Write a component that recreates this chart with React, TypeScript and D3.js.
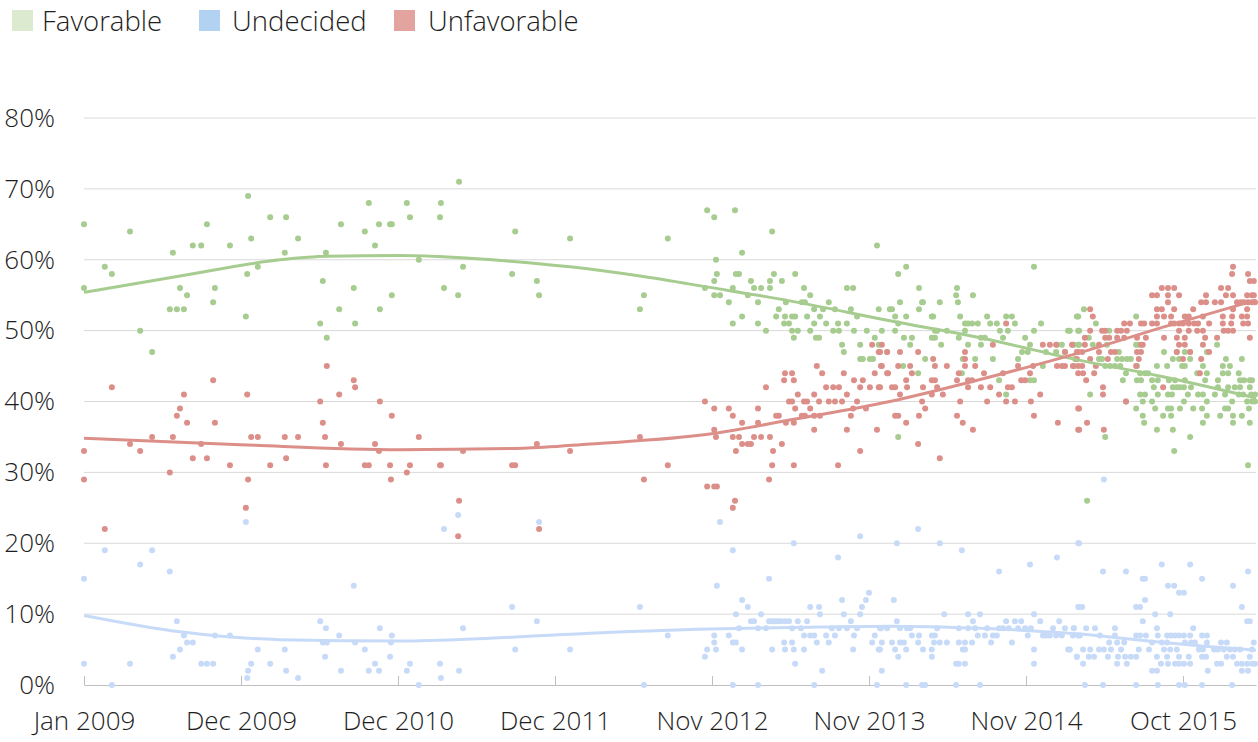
import { useEffect, useRef } from 'react';
import * as d3 from 'd3';

// Poll results: [days since 1 Jan 2009, percent]
const favorable: [number, number][] = [
  [0, 65], [0, 56], [47, 59], [63, 58], [104, 64], [127, 50], [154, 47], [194, 53], [201, 61], [210, 53],
  [217, 56], [226, 53], [233, 55], [246, 62], [265, 62], [278, 65], [292, 54], [296, 56], [330, 62], [366, 52],
  [369, 58], [371, 69], [378, 63], [393, 59], [421, 66], [454, 61], [457, 66], [484, 63], [534, 51], [540, 57],
  [547, 61], [549, 49], [577, 53], [581, 65], [610, 56], [613, 51], [635, 64], [644, 68], [658, 62], [667, 65],
  [669, 53], [692, 65], [696, 65], [696, 55], [730, 68], [737, 66], [757, 60], [805, 66], [807, 68], [814, 56],
  [846, 55], [848, 71], [857, 59], [968, 58], [975, 64], [1024, 57], [1029, 55], [1099, 63], [1257, 53], [1266, 55],
  [1320, 63], [1404, 56], [1409, 67],
  [1425, 66], [1472, 67], [1556, 64], [1488, 61], [1429, 60], [1431, 58], [1474, 58], [1481, 58], [1560, 58], [1608, 58],
  [1425, 57], [1508, 57], [1551, 57], [1578, 57], [1467, 56], [1515, 56], [1531, 56], [1551, 56], [1628, 56], [1725, 56],
  [1739, 56], [1793, 62], [1425, 55], [1438, 55], [1501, 55], [1642, 55], [1458, 54], [1524, 54], [1587, 54], [1623, 54],
  [1630, 54], [1684, 54], [1488, 52], [1571, 53], [1651, 53], [1671, 53], [1698, 53], [1734, 53], [1797, 53], [1467, 51],
  [1524, 51], [1565, 52], [1585, 52], [1601, 52], [1608, 52], [1635, 52], [1664, 52], [1583, 51], [1594, 51], [1651, 51],
  [1678, 51], [1705, 51], [1725, 51], [1748, 52], [1542, 50], [1601, 50], [1614, 50], [1642, 50], [1694, 50], [1707, 50],
  [1741, 50], [1770, 50], [1804, 50], [1605, 49], [1655, 49], [1662, 49], [1788, 49], [1714, 48], [1755, 48], [1797, 48],
  [1718, 47], [1816, 47], [1755, 46], [1761, 46], [1777, 46], [1784, 46], [1822, 53],
  [1841, 58], [1859, 59], [2148, 59], [1888, 56], [1974, 56], [1972, 55], [1976, 54], [2010, 55], [1845, 54], [1895, 54],
  [1897, 54], [1935, 54], [1827, 53], [1888, 53], [1834, 52], [1859, 52], [1917, 52], [1920, 52], [1981, 52], [2042, 52],
  [2085, 52], [2098, 52], [2245, 52], [1841, 51], [1992, 51], [1999, 51], [2008, 51], [2021, 51], [2049, 51], [2064, 51],
  [2105, 51], [2164, 51], [1834, 50], [1924, 50], [1929, 50], [1951, 50], [1992, 50], [2071, 50], [2089, 50], [2148, 50],
  [2225, 50], [2248, 50], [1854, 49], [1872, 49], [1917, 49], [1924, 49], [1978, 49], [2028, 49], [2037, 49], [2078, 49],
  [2128, 49], [1868, 48], [1938, 48], [1999, 48], [2028, 48], [2139, 48], [2200, 48], [2211, 48], [2238, 48], [2248, 48],
  [2121, 47], [2134, 47], [2175, 47], [2198, 47], [2218, 47], [1902, 46], [1987, 46], [2015, 46], [2055, 46], [2112, 46],
  [2241, 46], [1852, 45], [2168, 45], [2238, 45], [1985, 44], [1886, 44], [2069, 43], [2139, 43], [2148, 43], [2085, 41],
  [1841, 35],
  [2261, 53], [2248, 52], [2379, 52], [2288, 51], [2229, 50], [2250, 50], [2272, 49], [2318, 50], [2562, 48], [2236, 48],
  [2250, 48], [2281, 48], [2313, 48], [2379, 48], [2385, 48], [2340, 47], [2442, 47], [2471, 47], [2489, 47], [2501, 47],
  [2539, 47], [2295, 46], [2302, 46], [2336, 46], [2347, 46], [2358, 46], [2367, 46], [2462, 46], [2476, 46], [2501, 46],
  [2582, 46], [2618, 46], [2238, 45], [2309, 45], [2320, 45], [2331, 45], [2343, 45], [2381, 45], [2426, 45], [2449, 45],
  [2483, 45], [2489, 45], [2530, 45], [2575, 45], [2591, 45], [2356, 44], [2388, 44], [2399, 44], [2406, 44], [2517, 44],
  [2539, 44], [2575, 44], [2587, 44], [2611, 44], [2349, 43], [2381, 43], [2390, 43], [2415, 43], [2428, 43], [2453, 43],
  [2467, 43], [2489, 43], [2535, 43], [2564, 43], [2614, 43], [2623, 43], [2636, 43], [2641, 43], [2419, 42], [2462, 42],
  [2471, 42], [2478, 42], [2487, 42], [2503, 42], [2564, 42], [2587, 42], [2602, 42], [2614, 42], [2636, 42], [2275, 41],
  [2388, 41], [2399, 41], [2428, 41], [2451, 41], [2460, 41], [2496, 41], [2519, 41], [2530, 41], [2557, 41], [2580, 41],
  [2611, 41], [2621, 41], [2639, 41], [2648, 41], [2356, 40], [2394, 40], [2415, 40], [2487, 40], [2539, 40], [2596, 40],
  [2630, 40], [2641, 40], [2648, 40], [2379, 39], [2422, 39], [2451, 39], [2458, 39], [2478, 39], [2508, 39], [2528, 39],
  [2580, 39], [2587, 39], [2634, 39], [2394, 38], [2440, 38], [2458, 38], [2539, 38], [2569, 38], [2598, 38], [2618, 38],
  [2397, 37], [2530, 37], [2598, 37], [2636, 37], [2426, 36], [2462, 36], [2309, 35], [2501, 35], [2465, 33], [2632, 31],
  [2268, 26],
];

const undecided: [number, number][] = [
  [0, 15], [0, 3], [47, 19], [63, 0], [104, 3], [127, 17], [154, 19], [194, 16], [201, 4], [210, 9],
  [217, 5], [226, 7], [233, 6], [246, 6], [265, 3], [278, 3], [292, 3], [296, 7], [330, 7], [366, 23],
  [369, 1], [371, 2], [378, 3], [393, 5], [421, 3], [454, 5], [457, 2], [484, 1], [534, 9], [547, 8],
  [540, 6], [549, 6], [545, 4], [577, 7], [581, 2], [610, 14], [613, 6], [635, 5], [644, 2], [658, 3],
  [667, 2], [669, 8], [692, 4], [694, 6], [696, 7], [730, 2], [737, 3], [757, 0], [805, 3], [807, 1],
  [814, 22], [846, 24], [848, 2], [857, 8], [968, 11], [975, 5], [1024, 9], [1029, 23], [1099, 5], [1257, 11],
  [1266, 0], [1320, 7], [1404, 4], [1409, 5],
  [1438, 23], [1755, 21], [1467, 19], [1605, 20], [1705, 18], [1431, 14], [1549, 15], [1488, 12], [1501, 11], [1775, 13],
  [1768, 12], [1714, 12], [1759, 11], [1642, 11], [1662, 11], [1474, 10], [1531, 10], [1664, 10], [1718, 10], [1755, 10],
  [1508, 9], [1515, 9], [1549, 9], [1556, 9], [1562, 9], [1569, 9], [1576, 9], [1585, 9], [1594, 9], [1614, 9],
  [1635, 9], [1734, 9], [1481, 8], [1524, 8], [1542, 8], [1601, 8], [1621, 8], [1691, 8], [1707, 8], [1725, 8],
  [1748, 8], [1802, 8], [1425, 7], [1458, 7], [1628, 7], [1642, 7], [1651, 7], [1678, 7], [1698, 7], [1741, 7],
  [1788, 7], [1425, 6], [1467, 6], [1474, 6], [1583, 6], [1601, 6], [1657, 6], [1684, 6], [1782, 6], [1804, 6],
  [1429, 5], [1488, 5], [1556, 5], [1585, 5], [1605, 5], [1628, 5], [1739, 5], [1797, 5], [1608, 3], [1669, 2],
  [1804, 2], [1467, 0], [1524, 0], [1651, 0], [1793, 0],
  [1886, 22], [1838, 20], [1935, 20], [2248, 20], [1985, 19], [2200, 18], [2069, 16], [2139, 17], [1831, 12], [1945, 10],
  [1999, 10], [2026, 10], [2148, 10], [2248, 11], [1838, 9], [2010, 9], [2085, 9], [2105, 9], [2119, 9], [2162, 9],
  [2205, 9], [1800, 8], [1816, 8], [1845, 8], [1861, 8], [1868, 8], [1929, 8], [1978, 8], [1999, 8], [2015, 8],
  [2042, 8], [2069, 8], [2078, 8], [2091, 8], [2112, 8], [2128, 8], [2141, 8], [2191, 8], [2218, 8], [2238, 8],
  [1872, 7], [1888, 7], [1917, 7], [1924, 7], [2021, 7], [2037, 7], [2055, 7], [2064, 7], [2134, 7], [2168, 7],
  [2175, 7], [2184, 7], [2198, 7], [2211, 7], [2248, 7], [1827, 6], [1845, 6], [1854, 6], [1886, 6], [1922, 6],
  [1935, 6], [1951, 6], [1978, 6], [1992, 6], [2008, 6], [2051, 6], [2098, 6], [1800, 5], [1834, 5], [1859, 5],
  [1897, 5], [1917, 5], [1987, 5], [1992, 5], [2148, 5], [2225, 5], [1841, 4], [1917, 4], [2245, 4], [1972, 3],
  [1978, 3], [1992, 3], [2148, 3], [1859, 0], [1895, 0], [1902, 0], [1972, 0], [2026, 0],
  [2306, 29], [2250, 20], [2304, 16], [2356, 16], [2437, 17], [2501, 17], [2394, 15], [2399, 15], [2528, 15], [2632, 16],
  [2451, 14], [2465, 14], [2487, 13], [2476, 13], [2598, 14], [2250, 11], [2257, 11], [2379, 11], [2388, 11], [2399, 12],
  [2618, 11], [2422, 10], [2456, 10], [2394, 9], [2630, 9], [2636, 9], [2238, 8], [2266, 8], [2286, 8], [2331, 8],
  [2426, 8], [2508, 8], [2236, 7], [2252, 7], [2297, 7], [2331, 7], [2379, 7], [2388, 7], [2401, 7], [2428, 7],
  [2449, 7], [2458, 7], [2467, 7], [2476, 7], [2487, 7], [2501, 7], [2528, 7], [2539, 7], [2318, 6], [2336, 6],
  [2352, 6], [2415, 6], [2437, 6], [2449, 6], [2489, 6], [2503, 6], [2512, 6], [2539, 6], [2571, 6], [2584, 6],
  [2645, 6], [2229, 5], [2259, 5], [2275, 5], [2295, 5], [2306, 5], [2322, 5], [2345, 5], [2385, 5], [2408, 5],
  [2442, 5], [2456, 5], [2471, 5], [2521, 5], [2530, 5], [2555, 5], [2564, 5], [2577, 5], [2591, 5], [2602, 5],
  [2614, 5], [2641, 5], [2245, 4], [2272, 4], [2284, 4], [2315, 4], [2338, 4], [2354, 4], [2367, 4], [2379, 4],
  [2426, 4], [2449, 4], [2476, 4], [2498, 4], [2528, 4], [2537, 4], [2584, 4], [2598, 4], [2636, 4], [2259, 3],
  [2336, 3], [2358, 3], [2435, 3], [2451, 3], [2467, 3], [2476, 3], [2487, 3], [2501, 3], [2562, 3], [2571, 3],
  [2607, 3], [2618, 3], [2630, 3], [2641, 3], [2648, 3], [2415, 2], [2426, 2], [2541, 2], [2618, 2], [2632, 2],
  [2263, 0], [2304, 0], [2379, 0], [2428, 0], [2476, 0], [2489, 0], [2528, 0], [2596, 0],
];

const unfavorable: [number, number][] = [
  [0, 33], [0, 29], [47, 22], [63, 42], [104, 34], [127, 33], [154, 35], [194, 30], [201, 35], [210, 38],
  [217, 39], [226, 41], [233, 37], [246, 32], [265, 34], [278, 32], [292, 43], [296, 37], [330, 31], [366, 25],
  [369, 41], [371, 29], [378, 35], [393, 35], [421, 31], [454, 35], [457, 32], [484, 35], [534, 40], [540, 37],
  [545, 35], [547, 31], [549, 45], [577, 41], [581, 34], [610, 43], [613, 42], [635, 31], [644, 31], [658, 34],
  [667, 33], [669, 40], [692, 31], [694, 29], [696, 38], [730, 30], [737, 31], [757, 35], [805, 31], [807, 31],
  [846, 21], [848, 26], [857, 33], [968, 31], [975, 31], [1024, 34], [1029, 22], [1099, 33], [1257, 35], [1266, 29],
  [1320, 31], [1404, 40], [1409, 28],
  [1782, 48], [1797, 47], [1802, 45], [1657, 45], [1585, 44], [1601, 44], [1669, 44], [1718, 44], [1788, 44], [1816, 44],
  [1583, 43], [1605, 43], [1741, 43], [1761, 43], [1542, 42], [1678, 42], [1694, 42], [1707, 42], [1755, 42], [1777, 42],
  [1797, 42], [1614, 41], [1651, 41], [1725, 41], [1594, 40], [1601, 40], [1628, 40], [1635, 40], [1662, 40], [1684, 40],
  [1698, 40], [1714, 40], [1748, 40], [1425, 39], [1458, 39], [1524, 39], [1608, 39], [1642, 39], [1739, 39], [1768, 39],
  [1467, 38], [1565, 38], [1571, 38], [1623, 38], [1630, 38], [1651, 38], [1664, 38], [1734, 38], [1488, 37], [1524, 37],
  [1587, 37], [1605, 37], [1425, 36], [1651, 36], [1725, 36], [1793, 36], [1429, 35], [1467, 35], [1481, 35], [1515, 35],
  [1531, 35], [1551, 35], [1488, 34], [1501, 34], [1508, 34], [1578, 34], [1474, 33], [1558, 33], [1755, 33], [1556, 31],
  [1605, 31], [1705, 31], [1549, 29], [1425, 28], [1431, 28], [1472, 26], [1467, 25],
  [2085, 51], [1804, 48], [2168, 48], [2184, 48], [2198, 48], [2055, 48], [1800, 47], [1816, 47], [1845, 47], [1886, 47],
  [1992, 47], [2218, 47], [2245, 47], [1920, 46], [1992, 46], [1804, 45], [1841, 45], [1868, 45], [1924, 45], [1951, 45],
  [1992, 45], [2015, 45], [2112, 45], [2146, 45], [2200, 45], [2211, 45], [2218, 45], [1818, 44], [1872, 44], [1978, 44],
  [2035, 44], [2078, 44], [2139, 44], [1859, 43], [1917, 43], [1924, 43], [1974, 43], [1999, 43], [2008, 43], [2119, 43],
  [2128, 43], [1800, 42], [1827, 42], [1834, 42], [1861, 42], [1897, 42], [1929, 42], [1999, 42], [2028, 42], [2049, 42],
  [2089, 42], [2098, 42], [1845, 41], [1917, 41], [1942, 41], [2069, 41], [2162, 41], [1895, 40], [1981, 40], [2042, 40],
  [2085, 40], [2105, 40], [2141, 40], [1902, 39], [2248, 39], [1834, 38], [1841, 38], [1888, 38], [1974, 38], [2148, 38],
  [1859, 37], [1987, 37], [2202, 37], [2010, 36], [2248, 36], [1886, 34], [1935, 32],
  [2598, 59], [2596, 58], [2632, 58], [2636, 57], [2645, 57], [2437, 56], [2451, 56], [2465, 56], [2571, 56], [2587, 56],
  [2415, 55], [2426, 55], [2451, 55], [2476, 55], [2537, 55], [2582, 55], [2598, 55], [2630, 55], [2641, 55], [2645, 55],
  [2451, 54], [2526, 54], [2537, 54], [2557, 54], [2571, 54], [2607, 54], [2616, 54], [2623, 54], [2632, 54], [2641, 54],
  [2648, 54], [2275, 53], [2426, 53], [2437, 53], [2465, 53], [2508, 53], [2598, 53], [2630, 53], [2281, 52], [2426, 52],
  [2442, 52], [2458, 52], [2489, 52], [2498, 52], [2530, 52], [2575, 52], [2596, 52], [2618, 52], [2630, 52], [2352, 51],
  [2365, 51], [2390, 51], [2397, 51], [2415, 51], [2426, 51], [2458, 51], [2465, 51], [2476, 51], [2485, 51], [2498, 51],
  [2510, 51], [2519, 51], [2544, 51], [2575, 51], [2594, 51], [2621, 51], [2632, 51], [2275, 50], [2302, 50], [2309, 50],
  [2336, 50], [2345, 50], [2358, 50], [2476, 50], [2498, 50], [2517, 50], [2530, 50], [2577, 50], [2587, 50], [2598, 50],
  [2263, 49], [2309, 49], [2318, 49], [2336, 49], [2352, 49], [2381, 49], [2401, 49], [2442, 49], [2471, 49], [2489, 49],
  [2535, 49], [2562, 49], [2636, 49], [2234, 48], [2263, 48], [2295, 48], [2390, 48], [2394, 48], [2476, 48], [2489, 48],
  [2530, 48], [2248, 47], [2257, 47], [2295, 47], [2322, 47], [2331, 47], [2381, 47], [2390, 47], [2471, 47], [2501, 47],
  [2544, 47], [2245, 46], [2275, 46], [2315, 46], [2385, 46], [2485, 46], [2526, 46], [2236, 45], [2248, 45], [2257, 45],
  [2288, 45], [2379, 45], [2248, 44], [2259, 44], [2284, 44], [2523, 44], [2266, 43], [2304, 42], [2440, 42], [2304, 41],
  [2356, 40], [2250, 39], [2268, 37], [2250, 36], [2306, 36],
];

// Polynomial trendlines: [days since 1 Jan 2009, percent]
const favorableTrend: [number, number][] = [
  [0, 55.4], [217, 57.7], [443, 60.0], [549, 60.5], [714, 60.6], [963, 59.8], [1099, 59.0], [1257, 57.7],
  [1415, 56.1], [1596, 54.2], [1822, 51.4], [2026, 49.0], [2252, 45.8], [2440, 43.5], [2650, 40.5],
];
const undecidedTrend: [number, number][] = [
  [0, 9.8], [217, 7.5], [443, 6.4], [714, 6.2], [918, 6.6], [1144, 7.3], [1415, 7.9], [1596, 8.1],
  [1822, 8.3], [2026, 8.0], [2252, 7.2], [2440, 6.0], [2650, 4.9],
];
const unfavorableTrend: [number, number][] = [
  [0, 34.8], [353, 33.9], [714, 33.2], [993, 33.4], [1144, 34.0], [1415, 35.4], [1596, 37.4], [1822, 40.0],
  [2026, 43.1], [2252, 46.9], [2440, 50.5], [2650, 54.3],
];

const seriesNames = ['Favorable', 'Undecided', 'Unfavorable'];
const yTicks = [0, 10, 20, 30, 40, 50, 60, 70, 80];
const tickStepDays = 355;
const lastDay = 2650;

const FONT = "'Open Sans', 'DejaVu Sans', sans-serif";

export default function App() {
  const svgRef = useRef<SVGSVGElement | null>(null);

  useEffect(() => {
    if (!svgRef.current) return;
    const svg = d3.select(svgRef.current);
    svg.selectAll('*').remove();

    const start = new Date(2009, 0, 1);
    const toDate = (d: number) => d3.timeDay.offset(start, d);

    const x = d3.scaleTime()
      .domain([start, toDate(lastDay)])
      .range([84, 1256]);
    const y = d3.scaleLinear().domain([0, 80]).range([685, 118]);

    const series = [
      { name: seriesNames[0], data: favorable, trend: favorableTrend, dot: '#a6cc8f', legend: '#dcebd0' },
      { name: seriesNames[1], data: undecided, trend: undecidedTrend, dot: '#c7dbf8', legend: '#b1d2f0' },
      { name: seriesNames[2], data: unfavorable, trend: unfavorableTrend, dot: '#dc8f89', legend: '#e3a39f' },
    ];

    // gridlines
    svg.append('g')
      .selectAll('line')
      .data(yTicks.filter(t => t > 0))
      .enter()
      .append('line')
      .attr('x1', 84)
      .attr('x2', 1256)
      .attr('y1', d => y(d))
      .attr('y2', d => y(d))
      .attr('stroke', '#d9d9d9')
      .attr('stroke-width', 1);

    // y axis labels
    const yAxis = svg.append('g')
      .attr('transform', 'translate(84,0)')
      .call(d3.axisLeft(y).tickValues(yTicks).tickSize(0).tickPadding(29).tickFormat(d => `${d}%`));
    yAxis.select('.domain').remove();
    yAxis.selectAll('text')
      .attr('font-family', FONT)
      .attr('font-weight', 300)
      .attr('font-size', 26)
      .attr('fill', '#1e1e1e');

    // x axis
    const tickDates = d3.range(0, 8).map(k => toDate(k * tickStepDays));
    const xAxis = svg.append('g')
      .attr('transform', `translate(0,${y(0)})`)
      .call(d3.axisBottom(x)
        .tickValues(tickDates)
        .tickSizeInner(-9)
        .tickSizeOuter(0)
        .tickPadding(27)
        .tickFormat(d => d3.timeFormat('%b %Y')(d as Date)));
    xAxis.select('.domain').attr('stroke', '#bfbfbf');
    xAxis.selectAll('.tick line').attr('stroke', '#bfbfbf');
    xAxis.selectAll('text')
      .attr('font-family', FONT)
      .attr('font-weight', 300)
      .attr('font-size', 26)
      .attr('fill', '#1e1e1e');

    // dots
    series.forEach(s => {
      svg.append('g')
        .selectAll('circle')
        .data(s.data)
        .enter()
        .append('circle')
        .attr('cx', d => x(toDate(d[0])))
        .attr('cy', d => y(d[1]))
        .attr('r', 3)
        .attr('fill', s.dot);
    });

    // trendlines
    const line = d3.line<[number, number]>()
      .x(d => x(toDate(d[0])))
      .y(d => y(d[1]))
      .curve(d3.curveMonotoneX);
    series.forEach(s => {
      svg.append('path')
        .datum(s.trend)
        .attr('d', line)
        .attr('fill', 'none')
        .attr('stroke', s.dot)
        .attr('stroke-width', 3);
    });

    // legend
    const legendX = [12, 199, 394];
    const legendTextX = [42, 232, 428];
    const legend = svg.append('g');
    series.forEach((s, i) => {
      legend.append('rect')
        .attr('x', legendX[i])
        .attr('y', 10)
        .attr('width', 21)
        .attr('height', 21)
        .attr('fill', s.legend);
      legend.append('text')
        .attr('x', legendTextX[i])
        .attr('y', 31)
        .attr('font-family', FONT)
        .attr('font-weight', 300)
        .attr('font-size', 27.5)
        .attr('fill', '#1e1e1e')
        .text(s.name);
    });
  }, []);

  return (
    <svg
      ref={svgRef}
      width={1258}
      height={742}
      style={{ position: 'absolute', left: 0, top: 0, background: '#fff' }}
    />
  );
}
